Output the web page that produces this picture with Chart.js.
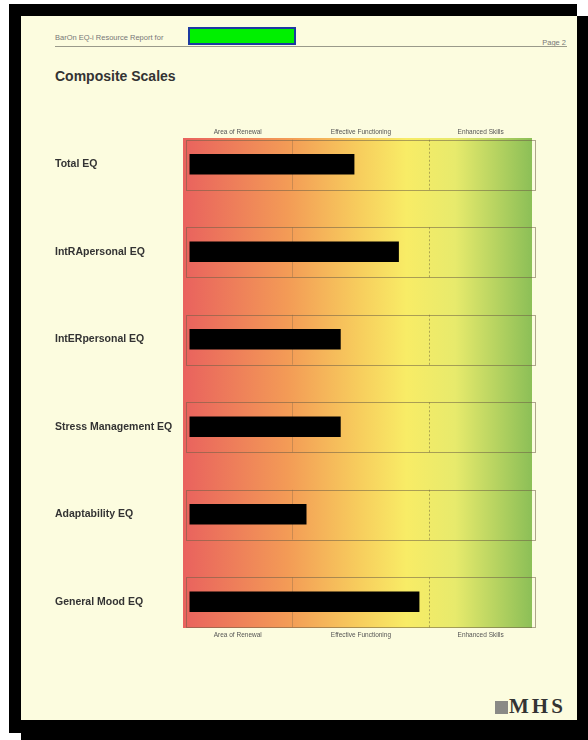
<!DOCTYPE html>
<html>
<head>
<meta charset="utf-8">
<script src="https://cdn.jsdelivr.net/npm/chart.js@4"></script>
<style>
  html, body { margin: 0; padding: 0; background: #fff; width: 588px; height: 740px; overflow: hidden; }
  .shade1 { position: absolute; left: 9px; top: 4px; width: 568px; height: 729px; background: #000; }
  .shade2 { position: absolute; left: 21px; top: 16px; width: 567px; height: 724px; background: #000; }
  .page { position: absolute; left: 21px; top: 16px; width: 556px; height: 704px; background: #fcfcdf; font-family: "Liberation Sans", Arial, sans-serif; }
  .hdr { position: absolute; top: 17px; font-size: 7.5px; color: #777; }
  .namebox { position: absolute; left: 167px; top: 11px; width: 104px; height: 14px; background: #00f000; border: 2px solid #1c3aa0; }
  .rule { position: absolute; left: 34px; top: 30px; width: 512px; height: 1px; background: #9a9a8a; }
  .title { position: absolute; left: 34px; top: 52px; font-size: 14px; font-weight: bold; color: #333; }
  .logo { position: absolute; left: 474px; top: 685px; width: 13px; height: 13px; background: #8a8a86; }
  .mhs { position: absolute; left: 488px; top: 678px; font-family: "Liberation Serif", "DejaVu Serif", serif; font-weight: bold; font-size: 21px; color: #333; letter-spacing: 3px; }
  #chart { position: absolute; left: 19px; top: 99px; }
</style>
</head>
<body>
<div class="shade1"></div>
<div class="shade2"></div>
<div class="page">
  <div class="hdr" style="left:34px;">BarOn EQ-i Resource Report for</div>
  <div class="namebox"></div>
  <div class="hdr" style="right:11px; top:22px;">Page 2</div>
  <div class="rule"></div>
  <div class="title">Composite Scales</div>
  <canvas id="chart" width="510" height="535"></canvas>
  <div class="logo"></div>
  <div class="mhs">MHS</div>
</div>
<script>
// composite scales and the bar length (0..100 band scale)
const categories = ['Total EQ', 'IntRApersonal EQ', 'IntERpersonal EQ', 'Stress Management EQ', 'Adaptability EQ', 'General Mood EQ'];
const scores = [48, 61, 44, 44, 34, 67];

// the three bands across the top and bottom
const zoneLabels = ['Area of Renewal', 'Effective Functioning', 'Enhanced Skills'];
const zoneCenters = [14, 50, 85];
const zoneBreaks = [30, 70];

// red -> orange -> yellow -> green background
const bandPlugin = {
  id: 'bands',
  beforeDatasetsDraw(chart) {
    const { ctx, chartArea: a, scales: { x, y } } = chart;
    ctx.save();
    const g = ctx.createLinearGradient(a.left, 0, a.right, 0);
    g.addColorStop(0, '#e9625e');
    g.addColorStop(0.3, '#f39b56');
    g.addColorStop(0.5, '#f7cc5d');
    g.addColorStop(0.64, '#f8ec66');
    g.addColorStop(0.78, '#e7ea6c');
    g.addColorStop(1, '#8cbf57');
    ctx.fillStyle = g;
    ctx.fillRect(a.left, a.top, a.right - a.left, a.bottom - a.top);

    // a framed strip for each scale
    const x0 = x.getPixelForValue(-1);
    const x1 = x.getPixelForValue(101);
    categories.forEach((c, i) => {
      const top = y.getPixelForValue(i - 0.28);
      const bot = y.getPixelForValue(i + 0.29);
      ctx.strokeStyle = 'rgba(110,95,70,0.55)';
      ctx.lineWidth = 1;
      ctx.setLineDash([]);
      ctx.strokeRect(Math.round(x0) + 0.5, Math.round(top) + 0.5, Math.round(x1 - x0), Math.round(bot - top));
      // band breaks inside the strip
      const p1 = Math.round(x.getPixelForValue(zoneBreaks[0])) + 0.5;
      ctx.strokeStyle = 'rgba(130,100,70,0.35)';
      ctx.beginPath();
      ctx.moveTo(p1, top);
      ctx.lineTo(p1, bot);
      ctx.stroke();
      const p2 = Math.round(x.getPixelForValue(zoneBreaks[1])) + 0.5;
      ctx.strokeStyle = 'rgba(120,110,60,0.55)';
      ctx.setLineDash([2, 2]);
      ctx.beginPath();
      ctx.moveTo(p2, top);
      ctx.lineTo(p2, bot);
      ctx.stroke();
    });
    ctx.restore();
  }
};

const zoneAxis = (pos, h, pad) => ({
  type: 'linear',
  position: pos,
  min: -2,
  max: 100,
  offset: false,
  afterBuildTicks: s => { s.ticks = zoneCenters.map(v => ({ value: v })); },
  afterFit: s => { s.height = h; },
  ticks: {
    callback: (v, i) => zoneLabels[i],
    autoSkip: false,
    maxRotation: 0,
    padding: pad,
    color: '#555',
    font: { family: '"Liberation Sans", Arial, sans-serif', size: 6.5 }
  },
  grid: { display: false, drawTicks: false },
  border: { display: false }
});

new Chart(document.getElementById('chart').getContext('2d'), {
  type: 'bar',
  data: {
    datasets: [{
      data: scores.map((v, i) => ({ x: v, y: i })),
      backgroundColor: '#000',
      barThickness: 20
    }]
  },
  options: {
    indexAxis: 'y',
    responsive: false,
    animation: false,
    devicePixelRatio: 1,
    layout: { padding: { left: 15, right: 18, top: 0, bottom: 0 } },
    plugins: { legend: { display: false }, tooltip: { enabled: false } },
    scales: {
      x: zoneAxis('bottom', 22, 3),
      xTop: zoneAxis('top', 23, 2),
      y: {
        type: 'linear',
        reverse: true,
        offset: false,
        min: -0.3,
        max: 5.3,
        afterBuildTicks: s => { s.ticks = categories.map((c, i) => ({ value: i })); },
        afterFit: s => { s.width = 128; },
        ticks: {
          callback: v => categories[v],
          autoSkip: false,
          crossAlign: 'far',
          color: '#333',
          font: { family: '"Liberation Sans", Arial, sans-serif', size: 10.5, weight: 'bold' }
        },
        grid: { display: false, drawTicks: false, offset: false },
        border: { display: false }
      }
    }
  },
  plugins: [bandPlugin]
});
</script>
</body>
</html>
